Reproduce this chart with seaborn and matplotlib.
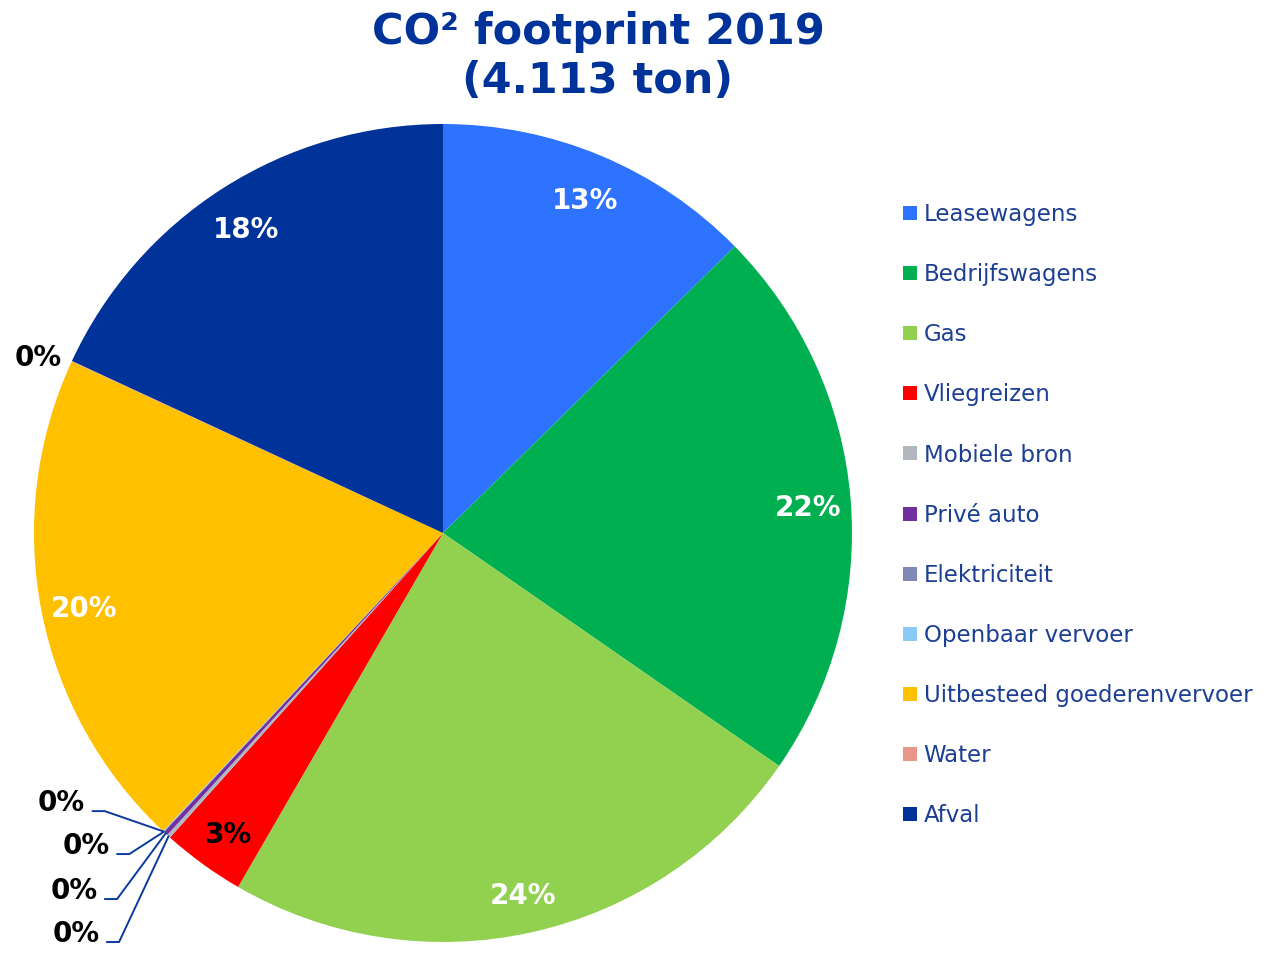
"""
CO2 footprint 2019 pie chart (4.113 ton), split per source.
"""

import numpy as np
import matplotlib
matplotlib.use("Agg")
import matplotlib.pyplot as plt
from matplotlib.lines import Line2D
import seaborn as sns

# data (ton CO2)
categories = [
    "Leasewagens", "Bedrijfswagens", "Gas", "Vliegreizen", "Mobiele bron",
    "Privé auto", "Elektriciteit", "Openbaar vervoer",
    "Uitbesteed goederenvervoer", "Water", "Afval",
]
tons = [520, 905, 975, 135, 6, 7, 1, 1, 818, 1, 744]
colors = [
    "#2E73FF", "#00B050", "#92D050", "#FF0000", "#B0B7BF",
    "#7030A0", "#8088B6", "#8ACBF5", "#FFC000", "#E8968A", "#003399",
]
# slices whose 0% label sits outside with a leader line, and where the label goes
leader_labels = ["Mobiele bron", "Privé auto", "Elektriciteit", "Openbaar vervoer"]
leader_text_pos = [(-0.840, -1.000), (-0.845, -0.895), (-0.815, -0.785), (-0.875, -0.680)]
dark_labels = ["Vliegreizen", "Water"] + leader_labels

TITLE = "CO² footprint 2019\n(4.113 ton)"
TITLE_COLOR = "#003399"
LEGEND_TEXT = "#1C3F94"
PCT_SIZE = 20

sns.set_style("white")
plt.rcParams["font.family"] = ["DejaVu Sans"]

fig = plt.figure(figsize=(12.85, 9.55), dpi=100)
# square axes: pie centre at (443, 533) px, radius 409 px
ax = fig.add_axes([34 / 1285, 13 / 955, 818 / 1285, 818 / 955])

wedges, _ = ax.pie(
    tons, colors=colors, startangle=90, counterclock=False, radius=1,
    wedgeprops=dict(linewidth=0), frame=False,
)
ax.set_xlim(-1, 1)
ax.set_ylim(-1, 1)
ax.set_aspect("equal")
ax.axis("off")

total = sum(tons)
for name, w, v in zip(categories, wedges, tons):
    pct = f"{round(v / total * 100):.0f}%"
    mid = np.deg2rad((w.theta1 + w.theta2) / 2)
    rim = (np.cos(mid), np.sin(mid))
    color = "black" if name in dark_labels else "white"

    if name in leader_labels:
        tx, ty = leader_text_pos[leader_labels.index(name)]
        # leader line: short horizontal stub, then straight to the rim
        x0 = tx + 0.018
        x1 = x0 + 0.03
        ax.plot([x0, x1, rim[0]], [ty, ty, rim[1]], color="#0B3A9C",
                lw=1.4, solid_joinstyle="miter", clip_on=False)
        ax.text(tx, ty + 0.02, pct, ha="right", va="center", fontsize=PCT_SIZE,
                fontweight="bold", color=color)
    elif name == "Water":
        ax.text(1.09 * rim[0], 1.07 * rim[1] - 0.022, pct, ha="center",
                va="center", fontsize=PCT_SIZE, fontweight="bold", color=color)
    else:
        ax.text(0.895 * rim[0], 0.895 * rim[1] - 0.014, pct, ha="center",
                va="center", fontsize=PCT_SIZE, fontweight="bold", color=color)

fig.text(598 / 1285, 1 - 11 / 955, TITLE, ha="center", va="top",
         fontsize=31, fontweight="bold", color=TITLE_COLOR, linespacing=1.2)

handles = [Line2D([0], [0], marker="s", linestyle="none", markersize=9.5,
                  markerfacecolor=c, markeredgewidth=0) for c in colors]
leg = fig.legend(
    handles, categories, loc="upper left", bbox_to_anchor=(903 / 1285, 1 - 203 / 955),
    frameon=False, fontsize=16.5, labelspacing=1.62, handlelength=0.6,
    handletextpad=0.3, borderaxespad=0, borderpad=0,
)
for t in leg.get_texts():
    t.set_color(LEGEND_TEXT)

fig.savefig("out.png", dpi=100)
